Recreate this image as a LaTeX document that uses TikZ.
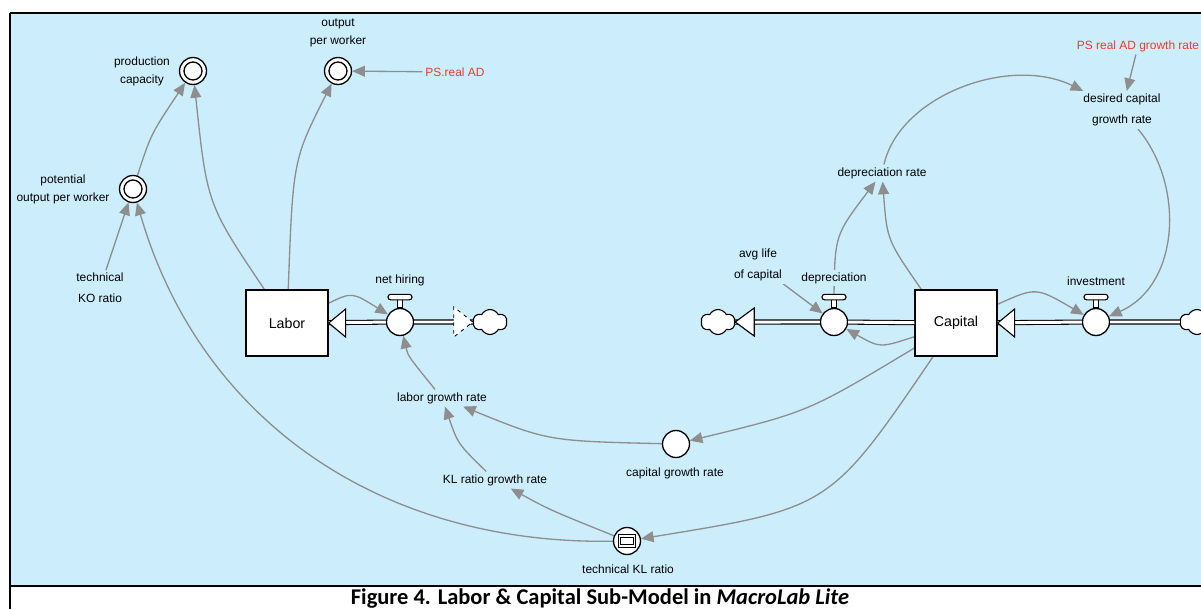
\documentclass[tikz,border=0pt]{standalone}
\usepackage{fontspec}
\setmainfont{Liberation Sans}
\newfontfamily\capfont{Carlito}
\usetikzlibrary{arrows.meta,shapes.symbols,calc}

\definecolor{skyblue}{RGB}{204,238,252}
\definecolor{linkgray}{RGB}{142,142,142}
\definecolor{psred}{RGB}{240,58,38}

\pgfdeclarelayer{back}
\pgfdeclarelayer{links}
\pgfsetlayers{back,links,main}

\tikzset{
  lbl/.style={font=\fontsize{6.8}{10.2}\selectfont, align=center, inner sep=1.5pt, fill=skyblue},
  extlbl/.style={lbl, text=psred},
  stock/.style={draw, fill=white, line width=0.75pt, minimum width=1.64cm, minimum height=1.32cm,
    inner sep=0pt, font=\fontsize{8.1}{10}\selectfont},
  converter/.style={draw, circle, fill=white, line width=0.75pt, minimum size=0.54cm, inner sep=0pt},
  ghost/.style={converter, path picture={\draw[line width=0.75pt] (path picture bounding box.center) circle (0.18cm);}},
  lookup/.style={converter, path picture={\draw[line width=0.5pt, double=white, double distance=0.9pt]
    (path picture bounding box.center) +(-7.5,-5) rectangle +(7.5,5);}},
  valvepart/.style={draw, fill=white, line width=0.65pt},
  sink/.style={cloud, cloud puffs=6, cloud puff arc=125, aspect=1.4, draw, fill=white, line width=0.65pt,
    minimum width=0.68cm, minimum height=0.5cm, inner sep=0pt},
  pipe/.style={draw, line width=0.6pt, double=white, double distance=1.7pt},
  flowtip/.style={draw, fill=white, line width=0.65pt, line join=miter},
  fadetip/.style={draw, fill=white, line width=0.5pt, dash pattern=on 2pt off 2.5pt},
  link/.style={draw=linkgray, line width=0.75pt, -{Triangle[length=7.2pt, width=6.2pt]}}
}

% valve with its stem and handle: name, position
\newcommand{\flowvalve}[2]{%
  \node[converter] (#1) at (#2) {};
  \draw[valvepart] (#1.north) ++(-2.2,0) rectangle ++(4.4,-8);
  \draw[valvepart, rounded corners=1.5pt] (#1.north) ++(-12,-8) rectangle ++(24,-5.5);
  \coordinate (#1-top) at ($(#1.north)+(0,-13.5)$);
}

\begin{document}
\begin{tikzpicture}[x=0.02cm, y=-0.02cm]
  \useasboundingbox (0,0) rectangle (1201,609);

  % Background and frame
  \begin{pgfonlayer}{back}
    \fill[skyblue] (11,14) rectangle (1201,586);
  \end{pgfonlayer}
  \draw[line width=1.1pt] (9.5,13) -- (1201,13);
  \draw[line width=0.8pt] (10,13) -- (10,609);
  \draw[line width=0.8pt] (10,586) -- (1201,586);

  % Labor side
  \node[ghost] (prodcap) at (193,71) {};
  \node[lbl] (prodcaplbl) at (142,71) {production\\capacity};
  \node[ghost] (outpw) at (338,71) {};
  \node[lbl] (outpwlbl) at (338,33) {output\\per worker};
  \node[extlbl] (psrealad) at (455,72) {PS.real AD};
  \node[ghost] (potout) at (133,189) {};
  \node[lbl] (potoutlbl) at (63,189) {potential\\output per worker};
  \node[lbl] (ktechko) at (100,288) {technical\\[1.7pt]KO ratio};

  \node[stock] (labor) at (287,323) {Labor};
  \flowvalve{nethiring}{400,322}
  \node[lbl] (nethiringlbl) at (400,280) {net hiring};
  \node[sink] (cloud1) at (490,322) {};

  \node[lbl] (laborgr) at (442,398) {labor growth rate};
  \node[lbl] (klgr) at (495,480) {KL ratio growth rate};
  \node[converter] (capgr) at (676,444) {};
  \node[lbl] (capgrlbl) at (675,473) {capital growth rate};
  \node[lookup] (techkl) at (627,541) {};
  \node[lbl] (techkllbl) at (628,569) {technical KL ratio};

  % Capital side
  \node[stock] (capital) at (956,323) {Capital};
  \flowvalve{deprec}{834,322}
  \node[lbl] (depreclbl) at (834,278) {depreciation};
  \node[sink] (cloud2) at (718,322) {};
  \node[lbl] (avglife) at (758,265) {avg life\\[1.7pt]of capital};
  \node[lbl] (deprate) at (882,173) {depreciation rate};
  \node[lbl] (desired) at (1122,110) {desired capital\\[1.7pt]growth rate};
  \node[extlbl] (psgrowth) at (1138,46) {PS real AD growth rate};
  \flowvalve{invest}{1096,322}
  \node[lbl] (investlbl) at (1096,281) {investment};
  \node[sink] (cloud3) at (1197,322) {};

  % Flows
  \draw[pipe] (nethiring) -- (labor);
  \draw[flowtip] (labor.east) -- ++(17,-14) -- ++(0,28) -- cycle;
  \draw[pipe] (nethiring) -- (cloud1);
  \draw[fadetip] (cloud1.west) -- ++(-19,-15) -- ++(0,30) -- cycle;
  \draw[pipe] (capital) -- (deprec);
  \draw[pipe] (deprec) -- (cloud2);
  \draw[flowtip] (cloud2.east) -- ++(19,-14) -- ++(0,28) -- cycle;
  \draw[pipe] (cloud3) -- (invest);
  \draw[pipe] (invest) -- (capital);
  \draw[flowtip] (capital.east) -- ++(17,-14) -- ++(0,28) -- cycle;

  % Links
  \begin{pgfonlayer}{links}
    \draw[link] (potout) .. controls (151,134) .. (prodcap);
    \draw[link] (labor) .. controls (207,204) .. (prodcap);
    \draw[link] (labor) .. controls (293,160) .. (outpw);
    \draw[link] (psrealad) -- (outpw);
    \draw[link] (ktechko) -- (potout);
    \draw[link] (techkl) .. controls (380,545) and (200,420) .. (potout);
    \draw[link] (labor) .. controls (352,292) .. (nethiring);
    \draw[link] (laborgr) .. controls (408,356) .. (nethiring);
    \draw[link] (klgr) .. controls (458,444) .. (laborgr);
    \draw[link] (techkl) .. controls (550,510) .. (klgr);
    \draw[link] (capgr) .. controls (548,441) .. (laborgr);
    \draw[link] (capital) .. controls (808,412) .. (capgr);
    \draw[link] (capital) .. controls (830,508) .. (techkl);
    \draw[link] (capital) .. controls (880,348) .. (deprec);
    \draw[link] ([xshift=0.14cm]capital.north west) .. controls (887,240) .. (deprate);
    \draw[link] (deprec-top) .. controls (835,235) .. (deprate);
    \draw[link] (deprate) .. controls (900,95) and (1010,55) .. (desired);
    \draw[link] (desired) .. controls (1185,185) and (1180,285) .. (invest);
    \draw[link] (psgrowth) -- (desired);
    \draw[link] (capital) .. controls (1036,287) .. (invest);
    \draw[link] (avglife) -- (deprec);
  \end{pgfonlayer}

  % Caption
  \node[anchor=base, inner sep=0pt, font=\fontsize{12.8}{14}\capfont\bfseries] (caption) at (600,604)
    {Figure 4. Labor \& Capital Sub-Model in \textit{MacroLab Lite}};
\end{tikzpicture}
\end{document}
